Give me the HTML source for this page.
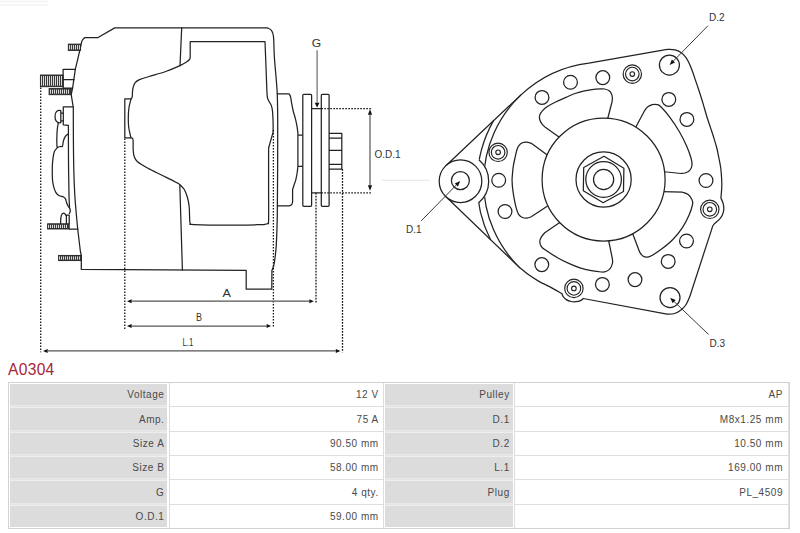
<!DOCTYPE html>
<html><head><meta charset="utf-8"><style>
html,body{margin:0;padding:0;background:#fff;}
body{width:800px;height:533px;position:relative;overflow:hidden;font-family:"Liberation Sans",sans-serif;}
.title{position:absolute;left:8px;top:361.3px;font-size:15.6px;color:#a62639;line-height:18px;letter-spacing:0.3px}
.c{position:absolute;box-sizing:border-box;font-size:11px;color:#4a4a4a;text-align:right;}
.t{position:absolute;font-size:10px;line-height:10px;letter-spacing:0.55px;color:#4a4a4a;white-space:nowrap}
.l{background:#dcdcdc;}
.v{background:#fff;border:1px solid #e2e2e2;}
</style></head><body>
<svg width="800" height="360" viewBox="0 0 800 360" style="position:absolute;left:0;top:0"><path d="M0 1.5 L48 1.5 M0 5 L48 5" stroke="#f3f3f3" stroke-width="1.5"/><line x1="382" y1="180.4" x2="430" y2="180.4" stroke="#ebebeb" stroke-width="1.2"/><g fill="none" stroke="#222" stroke-width="1.25" stroke-linejoin="round" stroke-linecap="round"><path d="M445.88 165.71 L520.71 95.12 A120.8 120.8 0 0 1 588.88 63.1 L588.88 63.1 L660 50.6 C661.33 50.4 665.5 49.52 668 49.4 C670.5 49.28 672.83 49.37 675 49.9 C677.17 50.43 679.17 51.32 681 52.6 C682.83 53.88 684.58 55.7 686 57.6 C687.42 59.5 688.42 61.68 689.5 64 C690.58 66.32 691.55 68.92 692.5 71.5 C693.45 74.08 694.75 78.17 695.2 79.5 C695.7 80.97 697.2 85.3 698.2 88.3 C699.2 91.3 700.2 94.3 701.2 97.5 C702.2 100.7 703.2 104.12 704.2 107.5 C705.2 110.88 706.15 114.45 707.2 117.8 C708.25 121.15 709.4 124.28 710.5 127.6 C711.6 130.92 712.75 134.3 713.8 137.7 C714.85 141.1 715.93 144.53 716.8 148 C717.67 151.47 718.33 155.08 719 158.5 C719.67 161.92 720.37 165.22 720.8 168.5 C721.23 171.78 721.43 175.28 721.6 178.2 C721.77 181.12 721.87 183.2 721.8 186 C721.73 188.8 721.35 193 721.2 195 C721.05 197 720.95 197.5 720.9 198 C721.28 198.95 722.72 201.8 723.2 203.7 C723.68 205.6 723.93 207.52 723.8 209.4 C723.67 211.28 723.1 213.37 722.4 215 C721.7 216.63 720.57 218.05 719.6 219.2 C718.63 220.35 717.42 221.2 716.6 221.9 C715.78 222.6 715.02 223.15 714.7 223.4 C714.4 223.8 713.37 224.93 712.9 225.8 C712.43 226.67 712.07 228.13 711.9 228.6 L692.4 288.5 C691.93 289.92 690.65 294.33 689.6 297 C688.55 299.67 687.53 302.33 686.1 304.5 C684.67 306.67 682.93 308.5 681 310 C679.07 311.5 676.83 312.8 674.5 313.5 C672.17 314.2 668.25 314.08 667 314.2 L583.2 298.5 C582.75 298.85 581.7 300.07 580.5 300.6 C579.3 301.13 577.58 301.55 576 301.7 C574.42 301.85 572.62 301.85 571 301.5 C569.38 301.15 567.6 300.42 566.3 299.6 C565 298.78 563.93 297.6 563.2 296.6 C562.47 295.6 562.12 294.1 561.9 293.6 C559.92 292.48 553.9 288.98 550 286.9 C546.1 284.82 542.17 283.2 538.5 281.1 C534.83 279 531.15 276.55 528 274.3 C524.85 272.05 521 268.72 519.6 267.6 L445.5 196.32"/><mask id="m1"><rect x="0" y="0" width="800" height="360" fill="#fff"/><circle cx="460.5" cy="181.2" r="28.2" fill="#000"/></mask><path d="M520.71 95.12 A120 120 0 0 0 519.6 267.6 M493.4 120.89 A126.5 126.5 0 0 0 490.45 239.56" mask="url(#m1)"/><path d="M479.19 160.09 A28.2 28.2 0 0 1 478.66 202.78"/><circle cx="460.5" cy="181.2" r="21.3" fill="#fff"/><circle cx="460.4" cy="180.6" r="9"/><path d="M549 156.2 L531.6 143.4 C530.75 143.2 528.12 142.27 526.5 142.2 C524.88 142.13 523.17 142.43 521.9 143 C520.63 143.57 519.72 144.52 518.9 145.6 C518.08 146.68 517.58 147.75 517 149.5 C516.42 151.25 516.02 153.32 515.4 156.1 C514.78 158.88 513.83 162.68 513.3 166.2 C512.77 169.72 512.4 174.73 512.2 177.2 C512 179.67 512.03 179.13 512.1 181 C512.17 182.87 512.23 185.33 512.6 188.4 C512.97 191.47 513.67 196.02 514.3 199.4 C514.93 202.78 515.7 206.25 516.4 208.7 C517.1 211.15 517.58 212.68 518.5 214.1 C519.42 215.52 520.48 216.53 521.9 217.2 C523.32 217.87 525.38 218.2 527 218.1 C528.62 218 530.83 216.85 531.6 216.6 L549.5 204.8"/><path d="M560 137.8 L545.3 127.3 C544.7 126.7 542.65 125.08 541.7 123.7 C540.75 122.32 539.92 120.47 539.6 119 C539.28 117.53 539.33 116.27 539.8 114.9 C540.27 113.53 541.13 112.18 542.4 110.8 C543.67 109.42 545.2 108.07 547.4 106.6 C549.6 105.13 552.52 103.53 555.6 102 C558.68 100.47 562.67 98.82 565.9 97.4 C569.13 95.98 572.08 94.55 575 93.5 C577.92 92.45 580.58 91.75 583.4 91.1 C586.22 90.45 589.08 89.97 591.9 89.6 C594.72 89.23 598.18 89 600.3 88.9 C602.42 88.8 603.18 88.72 604.6 89 C606.02 89.28 607.68 89.85 608.8 90.6 C609.92 91.35 610.7 92.32 611.3 93.5 C611.9 94.68 612.28 96.28 612.4 97.7 C612.52 99.12 612.07 101.28 612 102 L607.2 120.5"/><path d="M634.5 129.5 L644.4 111 C644.92 110.33 646.18 108.07 647.5 107 C648.82 105.93 650.7 105 652.3 104.6 C653.9 104.2 655.63 104.2 657.1 104.6 C658.57 105 658.97 104.88 661.1 107 C663.23 109.12 666.85 113.18 669.9 117.3 C672.95 121.42 676.62 126.92 679.4 131.7 C682.18 136.48 684.67 141.62 686.6 146 C688.53 150.38 690.1 154.83 691 158 C691.9 161.17 692.2 162.93 692 165 C691.8 167.07 690.97 169.07 689.8 170.4 C688.63 171.73 686.47 172.48 685 173 C683.53 173.52 681.67 173.42 681 173.5 L662 171.5"/><path d="M662 191.7 L682.6 192.2 C683.53 192.6 686.67 193.38 688.2 194.6 C689.73 195.82 691.07 197.92 691.8 199.5 C692.53 201.08 693.07 201.47 692.6 204.1 C692.13 206.73 690.67 211.43 689 215.3 C687.33 219.17 685.25 223.32 682.6 227.3 C679.95 231.28 676.55 235.62 673.1 239.2 C669.65 242.78 665.37 246.13 661.9 248.8 C658.43 251.47 654.7 253.82 652.3 255.2 C649.9 256.58 649.08 256.97 647.5 257.1 C645.92 257.23 644.12 256.85 642.8 256 C641.48 255.15 640.13 252.67 639.6 252 L631.5 230.5"/><path d="M560.5 222 L545.1 232.4 C544.48 233.15 542.28 235.4 541.4 236.9 C540.52 238.4 539.83 239.83 539.8 241.4 C539.77 242.97 540.32 244.9 541.2 246.3 C542.08 247.7 542.38 247.9 545.1 249.8 C547.82 251.7 553.55 255.43 557.5 257.7 C561.45 259.97 565.05 261.7 568.8 263.4 C572.55 265.1 576.25 266.68 580 267.9 C583.75 269.12 587.73 270.02 591.3 270.7 C594.87 271.38 598.95 271.87 601.4 272 C603.85 272.13 604.52 272.1 606 271.5 C607.48 270.9 609.22 269.82 610.3 268.4 C611.38 266.98 612.17 264.68 612.5 263 C612.83 261.32 612.33 259.08 612.3 258.3 L608.2 238.5"/><circle cx="603.6" cy="179.5" r="61.5" fill="#fff"/><circle cx="603.6" cy="179.5" r="27.6"/><path d="M604 156.3 L623.89 168.25 L623.49 191.45 L603.2 202.7 L583.31 190.75 L583.71 167.55 Z"/><circle cx="603.6" cy="179.5" r="17.8"/><circle cx="603.6" cy="179.5" r="10.1"/><circle cx="542" cy="97.4" r="6.9"/><circle cx="570.5" cy="82.3" r="6.9"/><circle cx="602.8" cy="77.6" r="6.9"/><circle cx="668.8" cy="99.4" r="6.9"/><circle cx="686.9" cy="119.4" r="6.9"/><circle cx="706" cy="180.5" r="6.9"/><circle cx="686.5" cy="241" r="6.9"/><circle cx="668.2" cy="261.4" r="6.9"/><circle cx="635" cy="279.6" r="6.9"/><circle cx="602.4" cy="284.4" r="6.9"/><circle cx="541.8" cy="264.6" r="6.9"/><circle cx="505" cy="211.5" r="6.9"/><circle cx="498.7" cy="180.2" r="6.9"/><circle cx="669.4" cy="65.1" r="10"/><circle cx="670" cy="297.6" r="10"/><circle cx="632.3" cy="74.1" r="9.2" stroke-width="1.15"/><circle cx="632.3" cy="74.1" r="6.8" stroke-width="1.15"/><circle cx="632.3" cy="74.1" r="2.3" stroke-width="1.1"/><circle cx="709.8" cy="209.3" r="9.2" stroke-width="1.15"/><circle cx="709.8" cy="209.3" r="6.8" stroke-width="1.15"/><circle cx="709.8" cy="209.3" r="2.3" stroke-width="1.1"/><circle cx="573.9" cy="288.4" r="9.2" stroke-width="1.15"/><circle cx="573.9" cy="288.4" r="6.8" stroke-width="1.15"/><circle cx="573.9" cy="288.4" r="2.3" stroke-width="1.1"/><circle cx="498.1" cy="152.3" r="9.2" stroke-width="1.15"/><circle cx="498.1" cy="152.3" r="6.8" stroke-width="1.15"/><circle cx="498.1" cy="152.3" r="2.3" stroke-width="1.1"/><path d="M114.7 27.9 L267.5 27.9 C268.17 28.33 270.5 29 271.5 30.5 C272.5 32 273.02 32.4 273.5 36.9 C273.98 41.4 273.93 50.32 274.4 57.5 C274.87 64.68 275.82 73.75 276.3 80 C276.78 86.25 277.07 88.33 277.3 95 C277.53 101.67 277.65 107.5 277.7 120 C277.75 132.5 277.67 154.17 277.6 170 C277.53 185.83 277.52 202.57 277.3 215 C277.08 227.43 276.7 237.28 276.3 244.6 C275.9 251.92 275.35 255.33 274.9 258.9 C274.45 262.47 274.1 264.07 273.6 266 C273.1 267.93 272.18 269.75 271.9 270.5 L271.8 289.2 L246.2 289.2 L246.2 270.3 L81.3 269.4 L81.3 255.5 L80.3 250.8 L77.7 229 C77.48 226.67 76.88 220.67 76.4 215 C75.92 209.33 75.23 202.5 74.8 195 C74.37 187.5 74.03 179.17 73.8 170 C73.57 160.83 73.48 150.42 73.4 140 C73.32 129.58 73.32 112.92 73.3 107.5 L71.2 94.7 L72.6 88.2 L75.3 69.4 L77.6 59.8 L81.2 44 C81.37 43.42 81.58 41.58 82.2 40.5 C82.82 39.42 84.45 38 84.9 37.5 L98.1 37.5 L114.7 27.9"/><path d="M190.2 57.1 L190.2 41.6 L265 41.6 C265.17 45.82 265.68 58.62 266 66.9 C266.32 75.18 266.65 86.13 266.9 91.3 C267.15 96.47 267.12 96.15 267.5 97.9 C267.88 99.65 268.58 100.6 269.2 101.8 C269.82 103 270.65 103.57 271.2 105.1 C271.75 106.63 272.18 108.03 272.5 111 C272.82 113.97 273 119.38 273.1 122.9 C273.2 126.42 273.1 130.57 273.1 132.1 L268.6 148 C268.6 155 268.6 177.9 268.6 190 C268.6 202.1 268.78 215 268.6 220.6 C268.42 226.2 268.27 222.93 267.5 223.6 C266.73 224.27 264.58 224.43 264 224.6 C258.33 224.7 241.67 225.2 230 225.2 C218.33 225.2 200.63 224.9 194 224.6 C187.37 224.3 190.93 224.67 190.2 223.4 C189.47 222.13 189.77 219.73 189.6 217 C189.43 214.27 189.53 210.17 189.2 207 C188.87 203.83 188.42 200.92 187.6 198 C186.78 195.08 185.6 191.73 184.3 189.5 C183 187.27 181.18 185.8 179.8 184.6 C178.42 183.4 178.88 183.82 176 182.3 C173.12 180.78 167.25 177.88 162.5 175.5 C157.75 173.12 151.67 170.28 147.5 168 C143.33 165.72 139.72 163.72 137.5 161.8 C135.28 159.88 134.92 158.47 134.2 156.5 C133.48 154.53 133.4 152.83 133.2 150 C133 147.17 133.37 141.53 133 139.5 C132.63 137.47 131.33 138.08 131 137.8 C130.63 136.17 129.25 131.3 128.8 128 C128.35 124.7 128.28 121.33 128.3 118 C128.32 114.67 128.45 111.18 128.9 108 C129.35 104.82 130.65 100.42 131 98.9 C131.2 98.55 131.95 97.95 132.2 96.8 C132.45 95.65 132.37 93.47 132.5 92 C132.63 90.53 132.58 89.53 133 88 C133.42 86.47 133.92 84.2 135 82.8 C136.08 81.4 137.17 80.65 139.5 79.6 C141.83 78.55 144.63 77.85 149 76.5 C153.37 75.15 160.53 73.32 165.7 71.5 C170.87 69.68 176.53 67.18 180 65.6 C183.47 64.02 184.92 63.02 186.5 62 C188.08 60.98 188.88 60.32 189.5 59.5 C190.12 58.68 190.08 57.5 190.2 57.1"/><path d="M181.7 27.9 L180 65.6 M179.8 184.6 L182.4 270 M131 98.9 L124.8 98.9 L124.8 137.8 L131 137.8"/><path d="M277.4 93.9 L289.2 93.9 C289.43 94.38 290.2 95.28 290.6 96.8 C291 98.32 291.18 100.72 291.6 103 C292.02 105.28 292.48 107.93 293.1 110.5 C293.72 113.07 294.65 115.77 295.3 118.4 C295.95 121.03 296.57 123.85 297 126.3 C297.43 128.75 297.75 131.97 297.9 133.1 L297.9 166.3 C297.78 167.33 297.53 170.33 297.2 172.5 C296.87 174.67 296.47 177.08 295.9 179.3 C295.33 181.52 294.35 184.1 293.8 185.8 C293.25 187.5 292.8 188.88 292.6 189.5 L292.6 201.9 C292.45 202.37 292.2 204.05 291.7 204.7 C291.2 205.35 289.95 205.62 289.6 205.8 L277.4 205.8 M297.9 135.1 L302.8 135.1 M297.9 166.3 L302.8 166.3"/><path d="M303.8 206.3 Q302.8 206.3 302.8 205.3 L302.8 95.3 Q302.8 94.3 303.8 94.3 L310.6 94.3 Q311.6 94.3 311.6 95.3 L311.6 205.3 Q311.6 206.3 310.6 206.3 Z M322.3 206.3 Q321.3 206.3 321.3 205.3 L321.3 95.3 Q321.3 94.3 322.3 94.3 L328.1 94.3 Q329.1 94.3 329.1 95.3 L329.1 205.3 Q329.1 206.3 328.1 206.3 Z M311.6 108.6 L321.3 108.6 M311.6 192.8 L321.3 192.8 M329.1 133.3 L341.8 133.3 L341.8 169.1 L329.1 169.1 M329.1 138.2 L341.8 138.2 M329.1 150.4 L341.8 150.4 M329.1 164.3 L341.8 164.3" fill="#fff"/><path d="M63.3 124.8 L63.3 106.8 L73.3 106.8 M63.3 124.8 L68.4 125.3 C68.42 131.08 68.4 148.38 68.5 160 C68.6 171.62 68.82 186.93 69 195 C69.18 203.07 69.5 206.17 69.6 208.4"/><path d="M60.8 110.6 C57 109.6 55 112.5 55 116.5 C55 120.5 57 123.6 60.8 122.6 Z M60.8 113 L63.3 113 M60.8 120.8 L63.3 120.8"/><path d="M58.3 122.8 C58.12 124 57.45 127.13 57.2 130 C56.95 132.87 56.83 137.18 56.8 140 C56.77 142.82 56.97 145.75 57 146.9 M57.6 147.4 C58 147.25 59.2 146.68 60 146.5 C60.8 146.32 61.83 147.22 62.4 146.3 C62.97 145.38 62.93 142.62 63.4 141 C63.87 139.38 64.37 137.8 65.2 136.6 C66.03 135.4 67.87 134.27 68.4 133.8"/><path d="M57.6 147.4 C57.07 148.1 55.17 149.8 54.4 151.6 C53.63 153.4 53.35 155.53 53 158.2 C52.65 160.87 52.38 163.97 52.3 167.6 C52.22 171.23 52.25 176.73 52.5 180 C52.75 183.27 53.25 185.13 53.8 187.2 C54.35 189.27 54.95 191.02 55.8 192.4 C56.65 193.78 57.6 194.73 58.9 195.5 C60.2 196.27 62.48 196.4 63.6 197 C64.72 197.6 65.1 198.15 65.6 199.1 C66.1 200.05 66.17 201.5 66.6 202.7 C67.03 203.9 67.68 205.35 68.2 206.3 C68.72 207.25 69.35 207.63 69.7 208.4 C70.05 209.17 70.35 210.05 70.3 210.9 C70.25 211.75 69.55 213.07 69.4 213.5"/><path d="M66.4 223.8 L66.4 215.2 L69.2 215.2 L69.2 223.8 M66.4 223.8 L66.4 216.5 C65.6 214 64.6 213.1 63.5 213.1 C61.6 213.1 60.4 216.5 60.6 223.8"/><path d="M63.1 88.1 L63.1 69.4 L75.3 69.4 M63.1 79.7 L74.1 79.7 M63.1 88.1 L72.6 88.1" /><path d="M69.2 229.1 L77.9 229.1"/></g><rect x="68.3" y="44.1" width="12.3" height="6.3" fill="#3a3a3a" stroke="#222" stroke-width="0.9"/><path d="M69.5 45.1 L69.5 49.4 M71.5 45.1 L71.5 49.4 M73.5 45.1 L73.5 49.4 M75.5 45.1 L75.5 49.4 M77.5 45.1 L77.5 49.4 M79.5 45.1 L79.5 49.4" stroke="#dadada" stroke-width="1"/><rect x="40.4" y="75" width="22.7" height="11.7" fill="#3a3a3a" stroke="#222" stroke-width="0.9"/><path d="M41.5 76 L41.5 85.7 M43.5 76 L43.5 85.7 M45.5 76 L45.5 85.7 M47.5 76 L47.5 85.7 M49.5 76 L49.5 85.7 M51.5 76 L51.5 85.7 M53.5 76 L53.5 85.7 M55.5 76 L55.5 85.7 M57.5 76 L57.5 85.7 M59.5 76 L59.5 85.7 M61.5 76 L61.5 85.7" stroke="#dadada" stroke-width="1"/><rect x="49.1" y="88.6" width="22.2" height="6.1" fill="#3a3a3a" stroke="#222" stroke-width="0.9"/><path d="M50.5 89.6 L50.5 93.7 M52.5 89.6 L52.5 93.7 M54.5 89.6 L54.5 93.7 M56.5 89.6 L56.5 93.7 M58.5 89.6 L58.5 93.7 M60.5 89.6 L60.5 93.7 M62.5 89.6 L62.5 93.7 M64.5 89.6 L64.5 93.7 M66.5 89.6 L66.5 93.7 M68.5 89.6 L68.5 93.7" stroke="#dadada" stroke-width="1"/><rect x="47.6" y="223.8" width="21.6" height="5.2" fill="#3a3a3a" stroke="#222" stroke-width="0.9"/><path d="M48.5 224.8 L48.5 228 M50.5 224.8 L50.5 228 M52.5 224.8 L52.5 228 M54.5 224.8 L54.5 228 M56.5 224.8 L56.5 228 M58.5 224.8 L58.5 228 M60.5 224.8 L60.5 228 M62.5 224.8 L62.5 228 M64.5 224.8 L64.5 228 M66.5 224.8 L66.5 228" stroke="#dadada" stroke-width="1"/><rect x="58.6" y="255.4" width="22.3" height="5.2" fill="#3a3a3a" stroke="#222" stroke-width="0.9"/><path d="M59.5 256.4 L59.5 259.6 M61.5 256.4 L61.5 259.6 M63.5 256.4 L63.5 259.6 M65.5 256.4 L65.5 259.6 M67.5 256.4 L67.5 259.6 M69.5 256.4 L69.5 259.6 M71.5 256.4 L71.5 259.6 M73.5 256.4 L73.5 259.6 M75.5 256.4 L75.5 259.6 M77.5 256.4 L77.5 259.6 M79.5 256.4 L79.5 259.6" stroke="#dadada" stroke-width="1"/><path d="M40.7 87.5 L40.7 352.3 M124.8 138.5 L124.8 329 M273.4 130 L273.4 328 M316 192.8 L316 303.6 M342.5 169.1 L342.5 352.3 M321.3 108.6 L371.5 108.6 M321.3 192.8 L372 192.8" stroke="#151515" stroke-width="1.3" stroke-dasharray="1.6 1.4" fill="none"/><line x1="317.1" y1="50.3" x2="317.1" y2="102.8" stroke="#6a6a6a" stroke-width="1.2"/><path d="M317.1 107.6 L314.7 102.8 L319.5 102.8 Z" fill="#111" stroke="none"/><line x1="370" y1="150" x2="370" y2="114.7" stroke="#555" stroke-width="1.2"/><path d="M370 109.2 L372.1 114.7 L367.9 114.7 Z" fill="#111" stroke="none"/><line x1="370" y1="150" x2="370" y2="185.3" stroke="#555" stroke-width="1.2"/><path d="M370 190.8 L367.9 185.3 L372.1 185.3 Z" fill="#111" stroke="none"/><line x1="200" y1="301.2" x2="131.6" y2="301.2" stroke="#555" stroke-width="1.2"/><path d="M127 301.2 L131.6 299.2 L131.6 303.2 Z" fill="#111" stroke="none"/><line x1="200" y1="301.2" x2="309.3" y2="301.2" stroke="#555" stroke-width="1.2"/><path d="M313.9 301.2 L309.3 303.2 L309.3 299.2 Z" fill="#111" stroke="none"/><line x1="200" y1="326.1" x2="131.6" y2="326.1" stroke="#555" stroke-width="1.2"/><path d="M127 326.1 L131.6 324.1 L131.6 328.1 Z" fill="#111" stroke="none"/><line x1="200" y1="326.1" x2="266.6" y2="326.1" stroke="#555" stroke-width="1.2"/><path d="M271.2 326.1 L266.6 328.1 L266.6 324.1 Z" fill="#111" stroke="none"/><line x1="200" y1="350.9" x2="47.6" y2="350.9" stroke="#555" stroke-width="1.2"/><path d="M43 350.9 L47.6 348.9 L47.6 352.9 Z" fill="#111" stroke="none"/><line x1="200" y1="350.9" x2="335.8" y2="350.9" stroke="#555" stroke-width="1.2"/><path d="M340.4 350.9 L335.8 352.9 L335.8 348.9 Z" fill="#111" stroke="none"/><line x1="421.2" y1="220.9" x2="456.36" y2="184.93" stroke="#3a3a3a" stroke-width="1.0"/><path d="M460.2 181 L457.93 186.47 L454.78 183.4 Z" fill="#111" stroke="none"/><line x1="708" y1="25.7" x2="673.45" y2="60.97" stroke="#3a3a3a" stroke-width="1.0"/><path d="M669.6 64.9 L671.88 59.43 L675.02 62.51 Z" fill="#111" stroke="none"/><line x1="708.6" y1="334.5" x2="674.18" y2="301.6" stroke="#3a3a3a" stroke-width="1.0"/><path d="M670.2 297.8 L675.7 300.01 L672.66 303.19 Z" fill="#111" stroke="none"/><text x="311.7" y="46.6" textLength="9.4" lengthAdjust="spacingAndGlyphs" style="font-family:'Liberation Sans',sans-serif;font-size:10.2px;fill:#333">G</text><text x="374.5" y="157.6" style="font-family:'Liberation Sans',sans-serif;font-size:10px;fill:#333">O.D.1</text><text x="222.4" y="296.8" textLength="8.4" lengthAdjust="spacingAndGlyphs" style="font-family:'Liberation Sans',sans-serif;font-size:10px;fill:#333">A</text><text x="196" y="320.9" textLength="6.0" lengthAdjust="spacingAndGlyphs" style="font-family:'Liberation Sans',sans-serif;font-size:10px;fill:#333">B</text><text x="182.5" y="346" textLength="10.9" lengthAdjust="spacingAndGlyphs" style="font-family:'Liberation Sans',sans-serif;font-size:10px;fill:#333">L.1</text><text x="406" y="232.7" style="font-family:'Liberation Sans',sans-serif;font-size:10px;fill:#333">D.1</text><text x="709" y="21.2" style="font-family:'Liberation Sans',sans-serif;font-size:10px;fill:#333">D.2</text><text x="709.5" y="347.2" style="font-family:'Liberation Sans',sans-serif;font-size:10px;fill:#333">D.3</text></svg>
<div class="title">A0304</div>
<div style="position:absolute;left:10px;top:384px;width:157px;height:21px;background:#dcdcdc"></div><div style="position:absolute;left:385px;top:384px;width:128px;height:21px;background:#dcdcdc"></div><div style="position:absolute;left:10px;top:408px;width:157px;height:22px;background:#dcdcdc"></div><div style="position:absolute;left:385px;top:408px;width:128px;height:22px;background:#dcdcdc"></div><div style="position:absolute;left:10px;top:433px;width:157px;height:21px;background:#dcdcdc"></div><div style="position:absolute;left:385px;top:433px;width:128px;height:21px;background:#dcdcdc"></div><div style="position:absolute;left:10px;top:457px;width:157px;height:21px;background:#dcdcdc"></div><div style="position:absolute;left:385px;top:457px;width:128px;height:21px;background:#dcdcdc"></div><div style="position:absolute;left:10px;top:481px;width:157px;height:22px;background:#dcdcdc"></div><div style="position:absolute;left:385px;top:481px;width:128px;height:22px;background:#dcdcdc"></div><div style="position:absolute;left:10px;top:506px;width:157px;height:21px;background:#dcdcdc"></div><div style="position:absolute;left:385px;top:506px;width:128px;height:21px;background:#dcdcdc"></div><div style="position:absolute;left:169px;top:406px;width:215px;height:1px;background:#dedede"></div><div style="position:absolute;left:514px;top:406px;width:275px;height:1px;background:#dedede"></div><div style="position:absolute;left:10px;top:405px;width:157px;height:1px;background:#e9e9e9"></div><div style="position:absolute;left:385px;top:405px;width:128px;height:1px;background:#e9e9e9"></div><div style="position:absolute;left:10px;top:406px;width:157px;height:1px;background:#e4e4e4"></div><div style="position:absolute;left:385px;top:406px;width:128px;height:1px;background:#e4e4e4"></div><div style="position:absolute;left:10px;top:407px;width:157px;height:1px;background:#eeeeee"></div><div style="position:absolute;left:385px;top:407px;width:128px;height:1px;background:#eeeeee"></div><div style="position:absolute;left:169px;top:431px;width:215px;height:1px;background:#dedede"></div><div style="position:absolute;left:514px;top:431px;width:275px;height:1px;background:#dedede"></div><div style="position:absolute;left:10px;top:430px;width:157px;height:1px;background:#e9e9e9"></div><div style="position:absolute;left:385px;top:430px;width:128px;height:1px;background:#e9e9e9"></div><div style="position:absolute;left:10px;top:431px;width:157px;height:1px;background:#e4e4e4"></div><div style="position:absolute;left:385px;top:431px;width:128px;height:1px;background:#e4e4e4"></div><div style="position:absolute;left:10px;top:432px;width:157px;height:1px;background:#eeeeee"></div><div style="position:absolute;left:385px;top:432px;width:128px;height:1px;background:#eeeeee"></div><div style="position:absolute;left:169px;top:455px;width:215px;height:1px;background:#dedede"></div><div style="position:absolute;left:514px;top:455px;width:275px;height:1px;background:#dedede"></div><div style="position:absolute;left:10px;top:454px;width:157px;height:1px;background:#e9e9e9"></div><div style="position:absolute;left:385px;top:454px;width:128px;height:1px;background:#e9e9e9"></div><div style="position:absolute;left:10px;top:455px;width:157px;height:1px;background:#e4e4e4"></div><div style="position:absolute;left:385px;top:455px;width:128px;height:1px;background:#e4e4e4"></div><div style="position:absolute;left:10px;top:456px;width:157px;height:1px;background:#eeeeee"></div><div style="position:absolute;left:385px;top:456px;width:128px;height:1px;background:#eeeeee"></div><div style="position:absolute;left:169px;top:479px;width:215px;height:1px;background:#dedede"></div><div style="position:absolute;left:514px;top:479px;width:275px;height:1px;background:#dedede"></div><div style="position:absolute;left:10px;top:478px;width:157px;height:1px;background:#e9e9e9"></div><div style="position:absolute;left:385px;top:478px;width:128px;height:1px;background:#e9e9e9"></div><div style="position:absolute;left:10px;top:479px;width:157px;height:1px;background:#e4e4e4"></div><div style="position:absolute;left:385px;top:479px;width:128px;height:1px;background:#e4e4e4"></div><div style="position:absolute;left:10px;top:480px;width:157px;height:1px;background:#eeeeee"></div><div style="position:absolute;left:385px;top:480px;width:128px;height:1px;background:#eeeeee"></div><div style="position:absolute;left:169px;top:504px;width:215px;height:1px;background:#dedede"></div><div style="position:absolute;left:514px;top:504px;width:275px;height:1px;background:#dedede"></div><div style="position:absolute;left:10px;top:503px;width:157px;height:1px;background:#e9e9e9"></div><div style="position:absolute;left:385px;top:503px;width:128px;height:1px;background:#e9e9e9"></div><div style="position:absolute;left:10px;top:504px;width:157px;height:1px;background:#e4e4e4"></div><div style="position:absolute;left:385px;top:504px;width:128px;height:1px;background:#e4e4e4"></div><div style="position:absolute;left:10px;top:505px;width:157px;height:1px;background:#eeeeee"></div><div style="position:absolute;left:385px;top:505px;width:128px;height:1px;background:#eeeeee"></div><div style="position:absolute;left:169px;top:382px;width:1px;height:146px;background:#dedede"></div><div style="position:absolute;left:383px;top:382px;width:1px;height:146px;background:#dedede"></div><div style="position:absolute;left:514px;top:382px;width:1px;height:146px;background:#dedede"></div><div style="position:absolute;left:788px;top:382px;width:1px;height:146px;background:#e2e2e2"></div><div style="position:absolute;left:8px;top:382px;width:782px;height:1px;background:#d2d2d2"></div><div style="position:absolute;left:8px;top:528px;width:782px;height:1px;background:#d2d2d2"></div><div style="position:absolute;left:8px;top:382px;width:1px;height:147px;background:#d2d2d2"></div><div style="position:absolute;left:789px;top:382px;width:1px;height:147px;background:#d2d2d2"></div><div class="t" style="right:635.55px;top:390.3px">Voltage</div><div class="t" style="right:421.25px;top:390.3px">12 V</div><div class="t" style="right:290.25px;top:390.3px">Pulley</div><div class="t" style="right:16.95px;top:390.3px">AP</div><div class="t" style="right:635.55px;top:414.63px">Amp.</div><div class="t" style="right:421.25px;top:414.63px">75 A</div><div class="t" style="right:290.25px;top:414.63px">D.1</div><div class="t" style="right:16.95px;top:414.63px">M8x1.25 mm</div><div class="t" style="right:635.55px;top:438.96px">Size A</div><div class="t" style="right:421.25px;top:438.96px">90.50 mm</div><div class="t" style="right:290.25px;top:438.96px">D.2</div><div class="t" style="right:16.95px;top:438.96px">10.50 mm</div><div class="t" style="right:635.55px;top:463.29px">Size B</div><div class="t" style="right:421.25px;top:463.29px">58.00 mm</div><div class="t" style="right:290.25px;top:463.29px">L.1</div><div class="t" style="right:16.95px;top:463.29px">169.00 mm</div><div class="t" style="right:635.55px;top:487.62px">G</div><div class="t" style="right:421.25px;top:487.62px">4 qty.</div><div class="t" style="right:290.25px;top:487.62px">Plug</div><div class="t" style="right:16.95px;top:487.62px">PL_4509</div><div class="t" style="right:635.55px;top:511.95px">O.D.1</div><div class="t" style="right:421.25px;top:511.95px">59.00 mm</div>
</body></html>
